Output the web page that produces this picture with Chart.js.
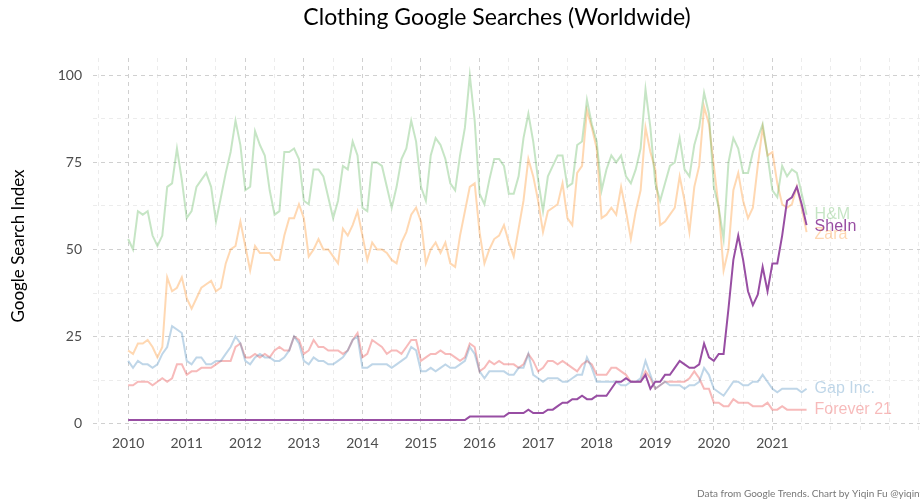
<!DOCTYPE html>
<html>
<head>
<meta charset="utf-8">
<script src="https://cdn.jsdelivr.net/npm/chart.js@4.4.1/dist/chart.umd.min.js"></script>
<style>
  html, body { margin: 0; padding: 0; background: #fff; }
</style>
</head>
<body>
<canvas id="myChart" width="920" height="503"></canvas>
<script>
// monthly Google Trends index, Jan 2010 .. Aug 2021
var startYear = 2010;
var yearTicks = [2010, 2011, 2012, 2013, 2014, 2015, 2016, 2017, 2018, 2019, 2020, 2021];
var yTickLabels = [0, 25, 50, 75, 100];

var hm = [
  53, 50, 61, 60, 61, 54, 51, 54, 68, 69, 79, 70, 59, 61, 68, 70, 72, 68, 58, 65,
  72, 78, 87, 80, 67, 68, 84, 80, 77, 67, 60, 61, 78, 78, 79, 76, 64, 63, 73, 73,
  71, 65, 59, 64, 74, 73, 81, 77, 62, 61, 75, 75, 74, 68, 62, 68, 76, 79, 87, 81,
  68, 64, 77, 82, 80, 76, 69, 67, 77, 85, 100, 87, 66, 63, 70, 76, 76, 74, 66, 66,
  71, 82, 89, 81, 70, 61, 71, 74, 77, 77, 68, 69, 80, 81, 93, 86, 81, 67, 73, 77,
  75, 77, 71, 69, 73, 79, 96, 85, 69, 64, 69, 74, 75, 82, 73, 71, 80, 85, 95, 89,
  68, 62, 53, 75, 82, 79, 72, 72, 78, 82, 86, 77, 67, 65, 74, 71, 73, 72, 66, 60
];
var zara = [
  21, 20, 23, 23, 24, 22, 19, 22, 42, 38, 39, 42, 36, 33, 36, 39, 40, 41, 38, 39,
  46, 50, 51, 58, 51, 44, 51, 49, 49, 49, 47, 47, 54, 59, 59, 63, 59, 48, 50, 53,
  50, 50, 48, 46, 56, 54, 57, 61, 54, 47, 52, 50, 50, 49, 47, 46, 52, 55, 60, 62,
  58, 46, 50, 52, 49, 52, 46, 45, 54, 61, 68, 69, 55, 46, 50, 53, 54, 57, 52, 48,
  56, 64, 76, 71, 64, 55, 61, 62, 63, 69, 59, 57, 72, 74, 90, 85, 79, 59, 60, 62,
  60, 68, 61, 53, 61, 67, 85, 78, 73, 57, 58, 60, 62, 71, 64, 55, 68, 74, 91, 86,
  74, 62, 44, 50, 67, 72, 64, 59, 62, 74, 85, 77, 78, 69, 63, 62, 63, 68, 62, 55
];
var shein = [
  1, 1, 1, 1, 1, 1, 1, 1, 1, 1, 1, 1, 1, 1, 1, 1, 1, 1, 1, 1,
  1, 1, 1, 1, 1, 1, 1, 1, 1, 1, 1, 1, 1, 1, 1, 1, 1, 1, 1, 1,
  1, 1, 1, 1, 1, 1, 1, 1, 1, 1, 1, 1, 1, 1, 1, 1, 1, 1, 1, 1,
  1, 1, 1, 1, 1, 1, 1, 1, 1, 1, 2, 2, 2, 2, 2, 2, 2, 2, 3, 3,
  3, 3, 4, 3, 3, 3, 4, 4, 5, 6, 6, 7, 7, 8, 7, 7, 8, 8, 8, 10,
  12, 12, 13, 12, 12, 12, 14, 10, 12, 12, 14, 14, 16, 18, 17, 16, 16, 17, 23, 19,
  18, 20, 20, 33, 47, 54, 47, 38, 34, 37, 45, 38, 46, 46, 54, 64, 65, 68, 63, 57
];
var gap = [
  18, 16, 18, 17, 17, 16, 17, 20, 22, 28, 27, 26, 18, 17, 19, 19, 17, 17, 18, 18,
  20, 22, 25, 23, 18, 17, 19, 20, 19, 19, 18, 18, 19, 21, 25, 23, 18, 17, 19, 18,
  18, 17, 17, 18, 19, 21, 24, 25, 16, 16, 17, 17, 17, 17, 16, 17, 18, 19, 22, 21,
  15, 15, 16, 15, 16, 17, 16, 16, 17, 18, 22, 20, 15, 13, 15, 15, 15, 15, 14, 14,
  16, 16, 20, 14, 13, 12, 13, 13, 13, 12, 12, 13, 14, 14, 19, 16, 12, 12, 12, 12,
  12, 11, 11, 12, 12, 13, 18, 14, 10, 11, 12, 11, 11, 11, 10, 11, 11, 12, 16, 14,
  10, 9, 8, 10, 12, 12, 11, 11, 12, 12, 14, 12, 10, 9, 10, 10, 10, 10, 9, 10
];
var forever21 = [
  11, 11, 12, 12, 12, 11, 12, 13, 12, 13, 17, 17, 14, 15, 15, 16, 16, 16, 17, 18,
  18, 18, 22, 23, 19, 19, 20, 19, 20, 19, 21, 22, 21, 21, 25, 24, 20, 21, 24, 22,
  22, 21, 21, 21, 20, 21, 24, 26, 19, 20, 24, 23, 22, 20, 21, 21, 20, 22, 24, 24,
  18, 19, 20, 20, 21, 20, 20, 19, 18, 19, 23, 22, 15, 16, 18, 17, 18, 17, 17, 17,
  16, 17, 20, 18, 15, 16, 18, 18, 17, 18, 17, 16, 15, 17, 18, 17, 14, 14, 14, 16,
  16, 15, 14, 12, 12, 12, 15, 13, 10, 11, 12, 12, 12, 12, 12, 13, 15, 13, 10, 10,
  6, 6, 5, 5, 7, 6, 6, 6, 5, 5, 5, 6, 4, 4, 5, 4, 4, 4, 4, 4
];

var chartTitle = 'Clothing Google Searches (Worldwide)';
var footerText = 'Data from Google Trends. Chart by Yiqin Fu @yiqinfu';

function toPoints(values) {
  return values.map(function (v, i) { return { x: startYear + i / 12, y: v }; });
}

// dashed grid every half year / every 12.5 index points
var xGrid = [];
for (var g = 2009.5; g <= 2023.5; g += 0.5) xGrid.push(g);
var yGrid = [0, 12.5, 25, 37.5, 50, 62.5, 75, 87.5, 100];

var textFont = 'Lato, "Noto Sans", sans-serif';

var annotate = {
  id: 'annotate',
  afterDatasetsDraw: function (chart) {
    var ctx = chart.ctx;
    ctx.save();
    ctx.textBaseline = 'middle';
    chart.data.datasets.forEach(function (ds, i) {
      var meta = chart.getDatasetMeta(i);
      var pt = meta.data[meta.data.length - 1];
      ctx.fillStyle = ds.borderColor;
      ctx.font = '16px "Liberation Sans", Arial, sans-serif';
      ctx.textAlign = 'left';
      ctx.fillText(ds.label, pt.x + 8, pt.y + ds.labelShift);
    });
    ctx.fillStyle = '#000';
    ctx.font = '23px ' + textFont;
    ctx.textAlign = 'center';
    ctx.fillText(chartTitle, 497, 18);
    ctx.fillStyle = '#777';
    ctx.font = '10px ' + textFont;
    ctx.textAlign = 'left';
    ctx.fillText(footerText, 697, 494);
    ctx.restore();
  }
};

function gridColor(major) {
  return function (c) {
    return major.indexOf(c.tick.value) >= 0 ? '#d0d0d0' : '#ececec';
  };
}

new Chart(document.getElementById('myChart'), {
  type: 'line',
  data: {
    datasets: [
      { label: 'SheIn', data: toPoints(shein), borderColor: '#984ea3', borderWidth: 2, labelShift: 1 },
      { label: 'H&M', data: toPoints(hm), borderColor: 'rgba(77,175,74,0.32)', borderWidth: 2, labelShift: 0 },
      { label: 'Zara', data: toPoints(zara), borderColor: 'rgba(255,127,0,0.3)', borderWidth: 2, labelShift: 3 },
      { label: 'Gap Inc.', data: toPoints(gap), borderColor: 'rgba(55,126,184,0.32)', borderWidth: 2, labelShift: 0 },
      { label: 'Forever 21', data: toPoints(forever21), borderColor: 'rgba(228,26,28,0.3)', borderWidth: 2, labelShift: 0 }
    ]
  },
  options: {
    responsive: false,
    animation: false,
    devicePixelRatio: 1,
    elements: { point: { radius: 0 }, line: { tension: 0 } },
    layout: { padding: { top: 58, right: 0, bottom: 47, left: 0 } },
    plugins: { legend: { display: false }, tooltip: { enabled: false } },
    scales: {
      x: {
        type: 'linear',
        min: 2009.4,
        max: 2023.52,
        afterBuildTicks: function (axis) { axis.ticks = xGrid.map(function (v) { return { value: v }; }); },
        afterFit: function (axis) { axis.height = 22; },
        grid: { color: gridColor(yearTicks), lineWidth: 1, drawTicks: false },
        border: { display: false, dash: [4, 4] },
        ticks: {
          autoSkip: false, maxRotation: 0, padding: 1, color: '#4d4d4d',
          font: { family: textFont, size: 14 },
          callback: function (v) { return yearTicks.indexOf(v) >= 0 ? String(v) : ''; }
        }
      },
      y: {
        min: -3,
        max: 105,
        afterBuildTicks: function (axis) { axis.ticks = yGrid.map(function (v) { return { value: v }; }); },
        afterFit: function (axis) { axis.width = 93; },
        grid: { color: gridColor(yTickLabels), lineWidth: 1, drawTicks: false },
        border: { display: false, dash: [4, 4] },
        ticks: {
          padding: 11, color: '#4d4d4d',
          font: { family: textFont, size: 14 },
          callback: function (v) { return yTickLabels.indexOf(v) >= 0 ? String(v) : ''; }
        },
        title: {
          display: true, text: 'Google Search Index', color: '#000',
          font: { family: textFont, size: 17 }, padding: { top: 8, bottom: 0 }
        }
      }
    }
  },
  plugins: [annotate]
});
</script>
</body>
</html>
